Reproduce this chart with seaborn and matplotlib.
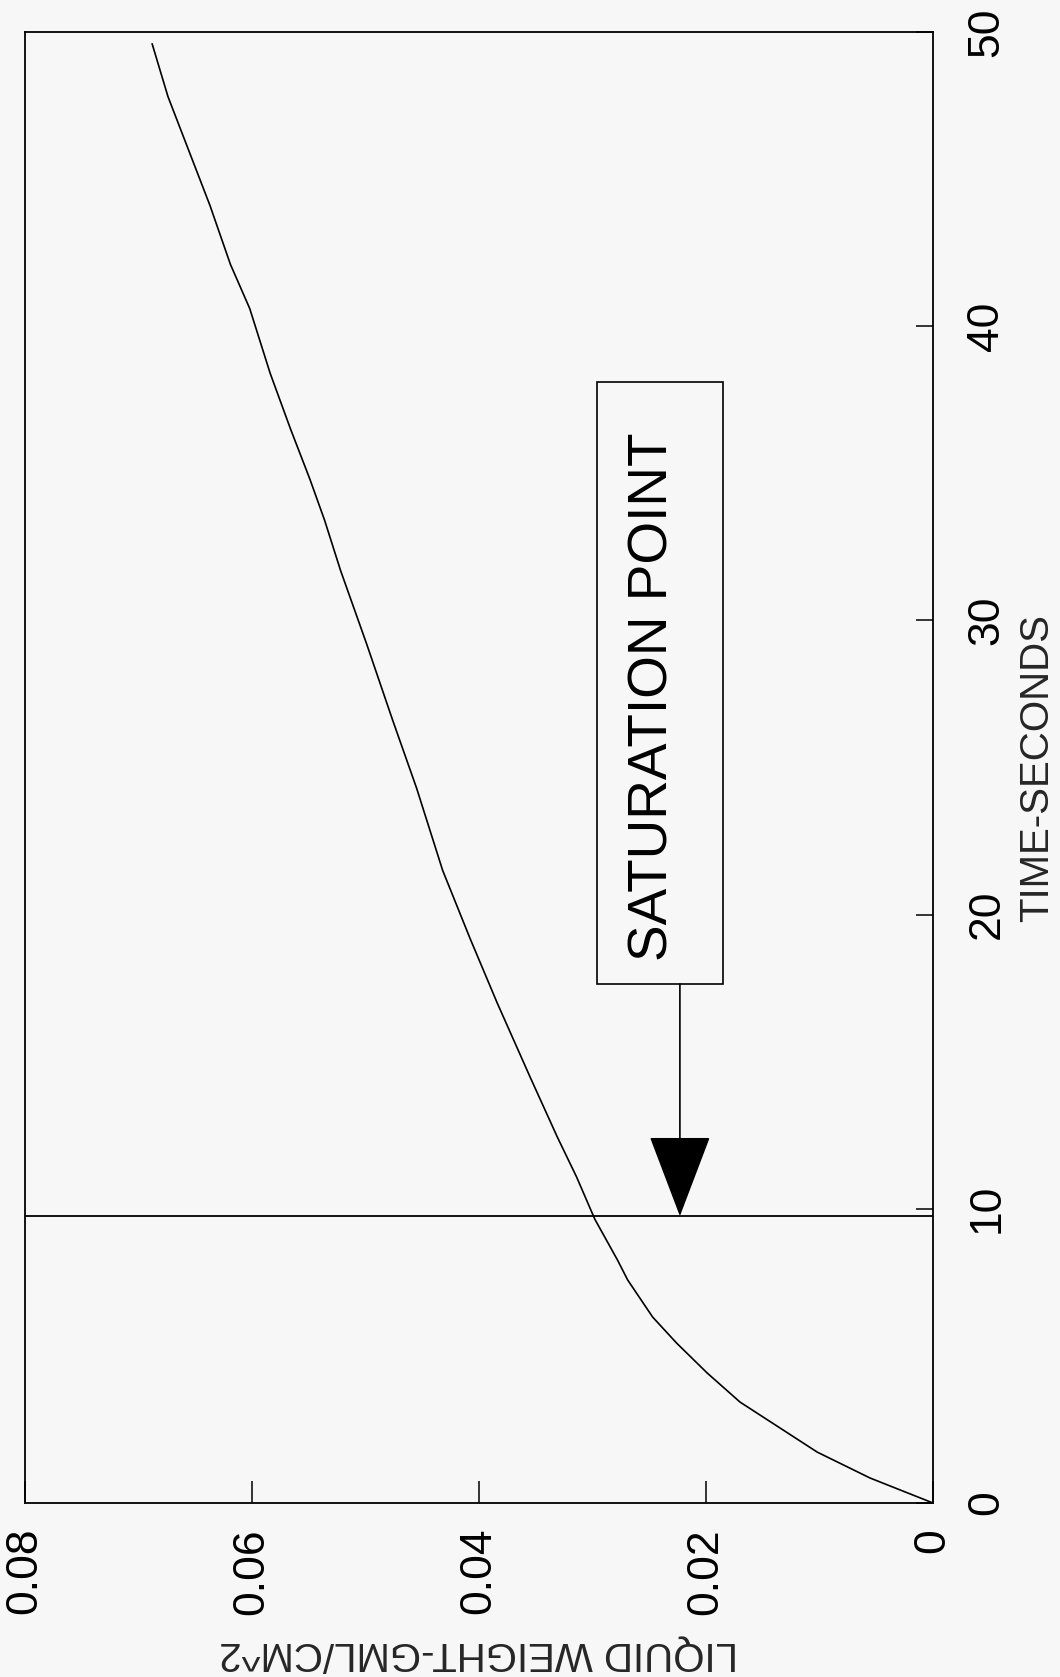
import matplotlib
matplotlib.use("Agg")
import matplotlib.pyplot as plt
from matplotlib.patches import Rectangle
import pandas as pd
import seaborn as sns

# Liquid weight build-up on the surface versus time
time_s = [0.0, 0.85, 1.73, 3.43, 4.42, 5.44, 6.32, 7.58, 8.26, 9.65, 11.08,
          12.44, 14.48, 17.0, 19.2, 21.5, 24.3, 26.6, 29.2, 31.7, 33.4, 34.8,
          36.5, 38.4, 40.6, 42.1, 44.1, 45.9, 47.8, 49.6]
liquid_weight = [0.0, 0.00555, 0.0102, 0.0170, 0.0199, 0.0226, 0.0247, 0.0269,
                 0.0278, 0.0298, 0.0314, 0.0331, 0.0355, 0.0384, 0.0408, 0.0432,
                 0.0455, 0.0476, 0.0499, 0.0522, 0.0536, 0.0549, 0.0566, 0.0584,
                 0.0602, 0.0619, 0.0637, 0.0655, 0.0674, 0.0688]

saturation_time = 9.75
saturation_label = "SATURATION POINT"

time_ticks = [0, 10, 20, 30, 40, 50]
time_tick_labels = ["0", "10", "20", "30", "40", "50"]
weight_ticks = [0.0, 0.02, 0.04, 0.06, 0.08]
weight_tick_labels = ["0", "0.02", "0.04", "0.06", "0.08"]

x_label = "LIQUID WEIGHT-GML/CM^2"
y_label = "TIME-SECONDS"

BG = "#f7f7f7"
FS_LABEL = 29
FS_TICK = 32

sns.set_style("white")
plt.rcParams["font.family"] = ["Liberation Sans", "DejaVu Sans"]

W, H = 1060, 1677
fig = plt.figure(figsize=(W / 100, H / 100), dpi=100, facecolor=BG)
ax = fig.add_axes([25 / W, 1 - 1503 / H, 908 / W, 1471 / H])
ax.set_facecolor(BG)

df = pd.DataFrame({"time": time_s, "weight": liquid_weight})
sns.lineplot(data=df, x="weight", y="time", sort=False, estimator=None,
             color="black", lw=1.2, ax=ax)

ax.set_xlim(0.08, 0.0)
ax.set_ylim(0, 50)

# saturation marker line across the plot
ax.axhline(saturation_time, color="black", lw=1.3, zorder=2)

for s in ax.spines.values():
    s.set_color("black")
    s.set_linewidth(1.3)

ax.set_xticks(weight_ticks)
ax.set_xticklabels(weight_tick_labels, rotation=90)
ax.yaxis.tick_right()
ax.set_yticks(time_ticks)
ax.set_yticklabels(time_tick_labels, rotation=90, va="center")
ax.tick_params(axis="x", direction="in", length=16, width=1.1, pad=18,
               labelsize=FS_TICK, bottom=True, top=False, colors="black")
ax.tick_params(axis="y", direction="in", length=12, width=1.1, pad=24,
               labelsize=FS_TICK, left=False, right=True, labelleft=False,
               labelright=True, colors="black")

ax.set_xlabel(x_label, rotation=180, fontsize=FS_LABEL, va="center")
ax.xaxis.set_label_coords(0.5, -(1654 - 1503) / 1471)
ax.yaxis.set_label_position("right")
ax.set_ylabel(y_label, rotation=90, fontsize=FS_LABEL, va="center")
ax.yaxis.set_label_coords((1037 - 25) / 908, 0.5)

# annotation box with arrow pointing at the saturation line
box_w_lo, box_w_hi = 0.0185, 0.0296
box_t_lo, box_t_hi = 17.64, 38.1
arrow_w = 0.0223
ax.add_patch(Rectangle((box_w_lo, box_t_lo), box_w_hi - box_w_lo,
                       box_t_hi - box_t_lo, facecolor=BG, edgecolor="black",
                       lw=1.2, zorder=3))
ax.text(0.02335, 27.4, saturation_label, rotation=90, rotation_mode="anchor",
        ha="center", va="baseline", fontsize=39.5, color="black", zorder=4)
ax.annotate("", xy=(arrow_w, saturation_time), xytext=(arrow_w, box_t_lo),
            arrowprops=dict(arrowstyle="-|>,head_length=5.4,head_width=2.05",
                            color="black", lw=1.2, shrinkA=0, shrinkB=0,
                            mutation_scale=10), zorder=4)

fig.savefig("out.png", dpi=100, facecolor=BG)
